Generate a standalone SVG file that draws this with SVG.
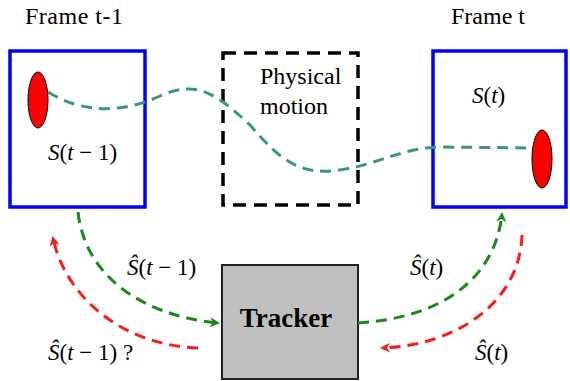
<svg xmlns="http://www.w3.org/2000/svg" width="570" height="381" viewBox="0 0 570 381">
<style>
text{font-family:"Liberation Serif","DejaVu Serif",serif;fill:#000}
.m{font-size:23px}
.i{font-style:italic}
.frame{fill:#fff;stroke:#0000ff;stroke-width:3.5}
.obj{fill:#ff0000;stroke:#000;stroke-width:1}
.g{fill:none;stroke:#178a17;stroke-width:3;stroke-dasharray:11 7}
.r{fill:none;stroke:#ff1a1a;stroke-width:3;stroke-dasharray:11 7}
</style>
<defs>
<marker id="ag" markerWidth="10" markerHeight="10" refX="8" refY="5" orient="auto" markerUnits="userSpaceOnUse"><path d="M0,0 L10,5 L0,10 L3,5 Z" fill="#178a17"/></marker>
<marker id="ar" markerWidth="10" markerHeight="10" refX="8" refY="5" orient="auto" markerUnits="userSpaceOnUse"><path d="M0,0 L10,5 L0,10 L3,5 Z" fill="#ff1a1a"/></marker>
</defs>
<rect width="570" height="381" fill="#fff"/>
<g id="frame-t-1">
<text x="25" y="24" font-size="24" letter-spacing="0.5">Frame t-1</text>
<rect class="frame" x="10" y="51" width="135" height="156"/>
<ellipse class="obj" cx="38" cy="100" rx="10" ry="28"/>
<text class="m" x="48" y="160"><tspan class="i">S</tspan>(<tspan class="i">t</tspan> − 1)</text>
</g>
<g id="frame-t">
<text x="451" y="24" font-size="24">Frame t</text>
<rect class="frame" x="433" y="51" width="133" height="156"/>
<ellipse class="obj" cx="542" cy="159" rx="10" ry="29"/>
<text class="m" x="472" y="103"><tspan class="i">S</tspan>(<tspan class="i">t</tspan>)</text>
</g>
<g id="physical-motion">
<rect x="223" y="53" width="135" height="152" fill="none" stroke="#000" stroke-width="3.5" stroke-dasharray="13 8"/>
<text x="260" y="84" font-size="24">Physical</text>
<text x="260" y="114" font-size="24">motion</text>
</g>
<g id="tracker">
<rect x="222" y="265" width="136" height="114" fill="#c0c0c0" stroke="#222" stroke-width="2"/>
<text x="286" y="327" font-size="27" font-weight="bold" text-anchor="middle">Tracker</text>
</g>
<g id="connectors">
<path d="M48,92 C 85,115 125,112 160,96 C 195,80 215,92 250,125 C 280,160 300,176 340,170 C 380,164 400,148 440,147 L 532,148" fill="none" stroke="#3a9a6a" stroke-width="3" stroke-dasharray="11 7"/>
<path class="g" d="M78,212 C 85,275 140,315 218,323" marker-end="url(#ag)"/>
<path class="r" d="M198,348 C 120,345 65,295 53,238" marker-end="url(#ar)"/>
<path class="g" d="M358,323 C 440,318 495,280 502,214" marker-end="url(#ag)"/>
<path class="r" d="M522,235 C 520,300 460,345 382,348" marker-end="url(#ar)"/>
</g>
<g id="labels">
<text class="m" x="127" y="275"><tspan class="i">Ŝ</tspan>(<tspan class="i">t</tspan> − 1)</text>
<text class="m" x="48" y="360"><tspan class="i">Ŝ</tspan>(<tspan class="i">t</tspan> − 1) ?</text>
<text class="m" x="410" y="275"><tspan class="i">Ŝ</tspan>(<tspan class="i">t</tspan>)</text>
<text class="m" x="475" y="360"><tspan class="i">Ŝ</tspan>(<tspan class="i">t</tspan>)</text>
</g>
</svg>
